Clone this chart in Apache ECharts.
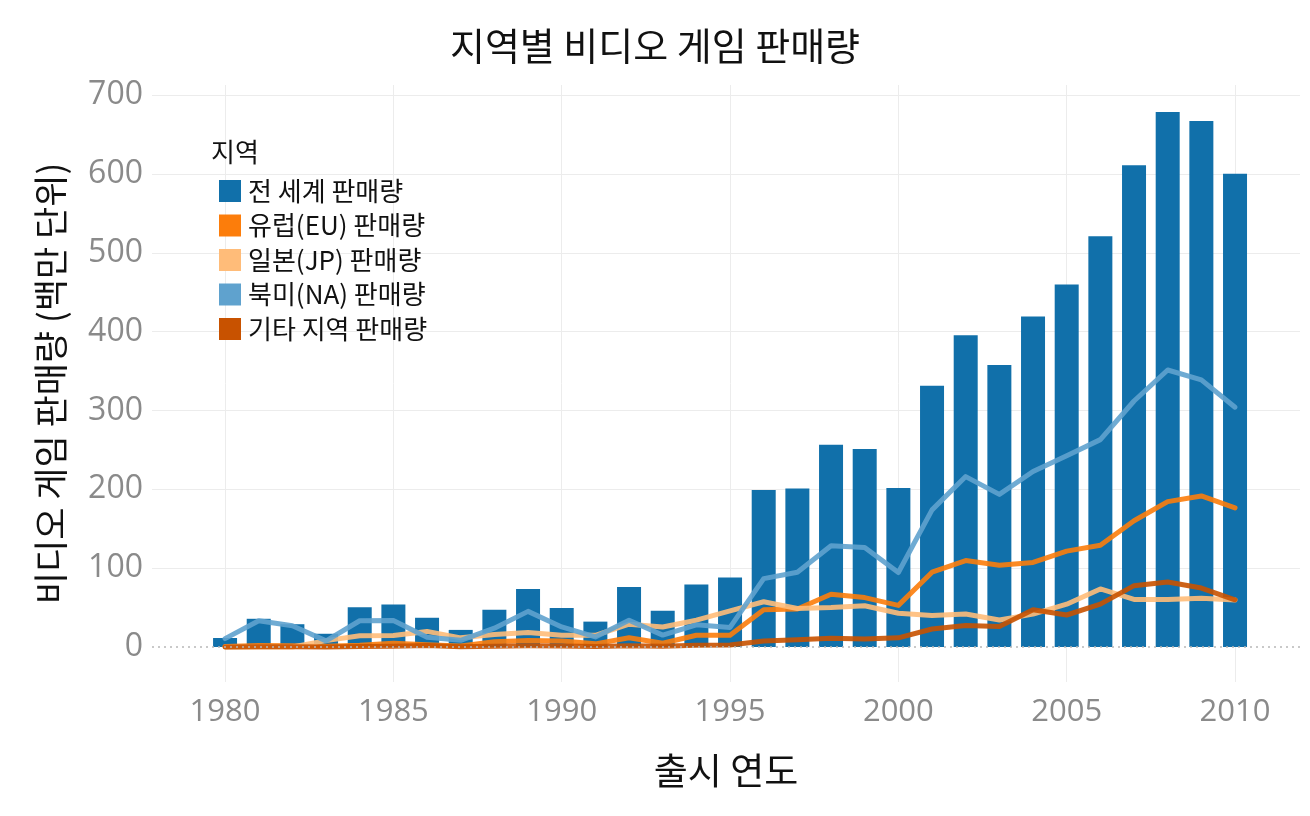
<!DOCTYPE html>
<html>
<head>
<meta charset="utf-8">
<script src="https://cdn.jsdelivr.net/npm/echarts@6/dist/echarts.min.js"></script>
<style>
html,body{margin:0;padding:0;background:#fff;}
#chart{width:1310px;height:816px;}
</style>
</head>
<body>
<div id="chart"></div>
<script>
const years = [1980,1981,1982,1983,1984,1985,1986,1987,1988,1989,1990,1991,1992,1993,1994,1995,1996,1997,1998,1999,2000,2001,2002,2003,2004,2005,2006,2007,2008,2009,2010];
const globalSales = [11.4,35.8,28.9,16.8,50.4,53.9,37.1,21.7,47.2,73.5,49.4,32.2,76.2,46.0,79.2,88.1,199.2,201.0,256.5,251.3,201.6,331.5,395.5,357.9,419.3,459.9,521.0,611.1,678.9,667.3,600.5];
const euSales = [0.7,2.0,1.7,0.8,2.1,4.7,2.8,1.4,6.6,8.4,7.6,4.0,11.7,4.7,14.9,14.9,47.3,48.3,66.9,62.7,52.8,94.9,109.7,103.8,107.3,121.6,129.2,160.2,184.4,191.6,176.6];
const jpSales = [0,0,0,8.1,14.3,14.6,19.8,11.6,15.8,18.4,14.9,14.8,28.9,25.3,34.0,45.8,57.4,48.9,50.0,52.3,42.8,39.9,41.8,34.2,41.7,54.3,73.7,60.3,60.3,61.9,59.5];
const naSales = [10.6,33.4,26.9,7.8,33.3,33.7,12.5,8.5,23.9,45.2,25.5,12.8,33.9,15.1,28.2,24.8,86.8,94.8,128.4,126.1,94.5,174.0,216.2,193.6,222.6,242.6,263.1,312.1,351.4,338.9,304.2];
const otherSales = [0.1,0.3,0.3,0.1,0.7,0.9,1.9,0.2,1.0,1.5,1.4,0.7,1.7,0.9,2.2,2.6,7.7,9.1,11.0,10.1,11.6,22.8,27.3,26.0,47.3,40.6,54.4,77.8,82.4,74.8,59.9];
const seriesNames = ['전 세계 판매량','유럽(EU) 판매량','일본(JP) 판매량','북미(NA) 판매량','기타 지역 판매량'];
const xTicks = [1980,1985,1990,1995,2000,2005,2010];
const yTicks = [0,100,200,300,400,500,600,700];

const pair = arr => years.map((y,i)=>[y,arr[i]]);
const FONT = '"Noto Sans CJK KR", "Noto Sans", sans-serif';
const NUMFONT = '"Open Sans", "Noto Sans", sans-serif';

const chart = echarts.init(document.getElementById('chart'), null, {renderer:'canvas'});
function lineSeries(name, arr, color){
  return {
    name, type:'line', data: pair(arr), symbol:'none', smooth:false,
    lineStyle:{color, width:5, opacity:0.9, join:'round', cap:'round'},
    itemStyle:{color}, z:3
  };
}
chart.setOption({
  backgroundColor:'#ffffff',
  animation:false,
  title:[
    {text:'지역별 비디오 게임 판매량', left:'center', top:22,
     textStyle:{fontFamily:FONT, fontSize:38, fontWeight:'normal', color:'#111'}},
    {text:'지역', left:206, top:134,
     textStyle:{fontFamily:FONT, fontSize:26, fontWeight:'normal', color:'#111'}}
  ],
  legend:{
    orient:'vertical', left:214, top:173, icon:'rect',
    itemWidth:22, itemHeight:22, itemGap:8.5,
    textStyle:{fontFamily:FONT, fontSize:26, color:'#111', padding:[0,0,0,2]},
    data: seriesNames
  },
  grid:{left:152, right:10, top:85, bottom:134, containLabel:false},
  xAxis:{
    type:'value', min:1977.83, max:2011.93,
    name:'출시 연도', nameLocation:'middle', nameGap:70,
    nameTextStyle:{fontFamily:FONT, fontSize:37, color:'#111'},
    axisLine:{show:false},
    axisTick:{show:false, customValues:xTicks},
    axisLabel:{customValues:xTicks, formatter:v=>String(v), fontFamily:NUMFONT, fontSize:31, color:'#8a8a8a', margin:15},
    splitLine:{show:true, lineStyle:{color:'#ececec', width:1}}
  },
  yAxis:{
    type:'value', min:-44.4, max:713,
    name:'비디오 게임 판매량 (백만 단위)', nameLocation:'middle', nameRotate:90, nameGap:84,
    nameTextStyle:{fontFamily:FONT, fontSize:35, color:'#111'},
    axisLine:{show:false},
    axisTick:{show:false, customValues:yTicks.filter(v=>v>0)},
    axisLabel:{customValues:yTicks, formatter:v=>String(v), fontFamily:NUMFONT, fontSize:32, color:'#8a8a8a', margin:9},
    splitLine:{show:true, lineStyle:{color:'#ececec', width:1}}
  },
  series:[
    {
      name:seriesNames[0], type:'bar', data: pair(globalSales), barWidth:24,
      itemStyle:{color:'#1170aa'}, z:2,
      markLine:{
        silent:true, symbol:'none', label:{show:false},
        lineStyle:{type:[2,4], color:'#b8b8b8', width:1.5},
        data:[{yAxis:0}]
      }
    },
    lineSeries(seriesNames[1], euSales, '#fc7d0b'),
    lineSeries(seriesNames[2], jpSales, '#ffbc79'),
    lineSeries(seriesNames[3], naSales, '#5fa2ce'),
    lineSeries(seriesNames[4], otherSales, '#c85200')
  ]
});
</script>
</body>
</html>
